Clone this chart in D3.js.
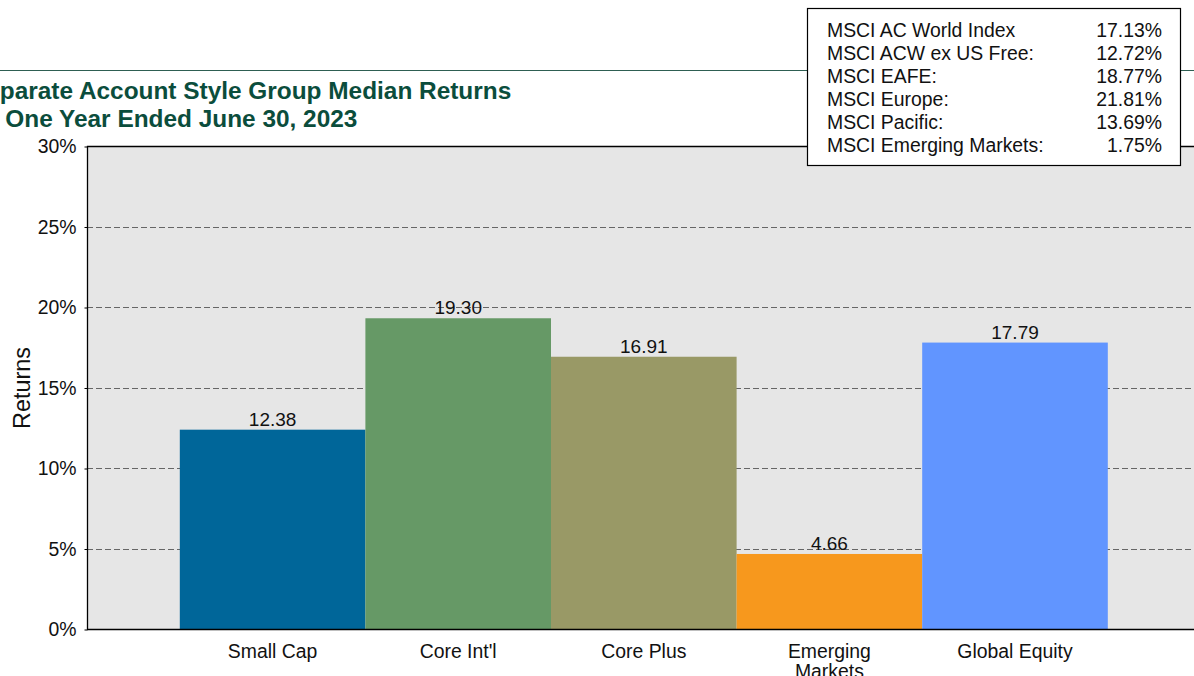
<!DOCTYPE html>
<html>
<head>
<meta charset="utf-8">
<script src="https://cdn.jsdelivr.net/npm/d3@7"></script>
<style>
  body { margin: 0; background: #fff; }
  svg { display: block; font-family: "Liberation Sans", Arial, sans-serif; }
</style>
</head>
<body>
<svg id="chart" width="1194" height="676"></svg>
<script>
var categories = ["Small Cap", "Core Int'l", "Core Plus", "Emerging\nMarkets", "Global Equity"];
var returns = [12.38, 19.30, 16.91, 4.66, 17.79];
var barColors = ["#006699", "#669966", "#999966", "#f7981d", "#6195ff"];
var yTicks = [0, 5, 10, 15, 20, 25, 30];
var indexNames = ["MSCI AC World Index", "MSCI ACW ex US Free:", "MSCI EAFE:", "MSCI Europe:", "MSCI Pacific:", "MSCI Emerging Markets:"];
var indexReturns = ["17.13%", "12.72%", "18.77%", "21.81%", "13.69%", "1.75%"];
var titleLines = ["Separate Account Style Group Median Returns", "for One Year Ended June 30, 2023"];

var svg = d3.select("#chart");
var plotLeft = 87, plotRight = 1200.6, plotTop = 146, plotBottom = 629;
var titleColor = "#0b4d3c";
var labelSize = "19.4px";

var x = d3.scaleBand().domain(categories).range([plotLeft, plotRight]).paddingInner(0).paddingOuter(0.5);
var y = d3.scaleLinear().domain([0, 30]).range([plotBottom, plotTop]);

// header rule
svg.append("line")
  .attr("x1", 0).attr("x2", 1194)
  .attr("y1", 70.5).attr("y2", 70.5)
  .style("stroke", "#2e5e52")
  .style("stroke-width", 1.2);

// title (left edge runs off the page like the original)
svg.selectAll(".title").data(titleLines).enter()
  .append("text")
  .attr("class", "title")
  .attr("x", function (d, i) { return i === 0 ? -30 : -34; })
  .attr("y", function (d, i) { return 99 + i * 28; })
  .style("font-size", "24.4px")
  .style("font-weight", "bold")
  .style("fill", titleColor)
  .text(function (d) { return d; });

// plot background
svg.append("rect")
  .attr("x", plotLeft).attr("y", plotTop)
  .attr("width", plotRight - plotLeft).attr("height", plotBottom - plotTop)
  .style("fill", "#e6e6e6");

// grid lines
svg.selectAll(".grid").data(yTicks.filter(function (t) { return t > 0 && t < 30; })).enter()
  .append("line")
  .attr("class", "grid")
  .attr("x1", plotLeft).attr("x2", plotRight)
  .attr("y1", function (d) { return Math.round(y(d)) + 0.5; })
  .attr("y2", function (d) { return Math.round(y(d)) + 0.5; })
  .style("stroke", "#666")
  .style("stroke-width", 1.2)
  .style("stroke-dasharray", "6,3");

// bars
svg.selectAll(".bar").data(returns).enter()
  .append("rect")
  .attr("class", "bar")
  .attr("x", function (d, i) { return x(categories[i]); })
  .attr("y", function (d) { return y(d); })
  .attr("width", x.bandwidth())
  .attr("height", function (d) { return plotBottom - y(d); })
  .style("fill", function (d, i) { return barColors[i]; });

// value labels
svg.selectAll(".val").data(returns).enter()
  .append("text")
  .attr("class", "val")
  .attr("x", function (d, i) { return x(categories[i]) + x.bandwidth() / 2; })
  .attr("y", function (d) { return y(d) - 4; })
  .attr("text-anchor", "middle")
  .style("font-size", "19px")
  .style("fill", "#111")
  .text(function (d) { return d.toFixed(2); });

// frame: left + top + bottom
svg.append("path")
  .attr("d", "M" + plotRight + "," + (plotTop + 0.5) + "H" + (plotLeft + 0.5) + "V" + (plotBottom + 0.5) + "H" + plotRight)
  .style("fill", "none")
  .style("stroke", "#000")
  .style("stroke-width", 1.3);

// y axis
var yAxis = d3.axisLeft(y).tickValues(yTicks).tickSize(3).tickFormat(function (d) { return d + "%"; });
var yg = svg.append("g").attr("transform", "translate(" + (plotLeft + 0.5) + ",0.5)").call(yAxis);
yg.select(".domain").remove();
yg.selectAll("text").style("font-size", labelSize).style("fill", "#111")
  .style("font-family", "'Liberation Sans', Arial, sans-serif").attr("x", -11);
yg.selectAll("line").style("stroke", "#000");

svg.append("text")
  .attr("transform", "translate(30,388) rotate(-90)")
  .attr("text-anchor", "middle")
  .style("font-size", "23.4px")
  .style("fill", "#111")
  .text("Returns");

// category labels
var cat = svg.selectAll(".cat").data(categories).enter()
  .append("text")
  .attr("class", "cat")
  .attr("text-anchor", "middle")
  .style("font-size", labelSize)
  .style("fill", "#111");
cat.selectAll("tspan")
  .data(function (d) { return d.split("\n").map(function (s) { return [s, d]; }); })
  .enter().append("tspan")
  .attr("x", function (d) { return x(d[1]) + x.bandwidth() / 2; })
  .attr("y", function (d, i) { return 658 + i * 20; })
  .text(function (d) { return d[0]; });

// index box
svg.append("rect")
  .attr("x", 807.5).attr("y", 8.5)
  .attr("width", 373).attr("height", 157)
  .style("fill", "#fff")
  .style("stroke", "#000")
  .style("stroke-width", 1.2);

svg.selectAll(".idxName").data(indexNames).enter()
  .append("text")
  .attr("x", 827)
  .attr("y", function (d, i) { return 37 + i * 23; })
  .style("font-size", labelSize)
  .style("fill", "#111")
  .text(function (d) { return d; });

svg.selectAll(".idxVal").data(indexReturns).enter()
  .append("text")
  .attr("x", 1162)
  .attr("y", function (d, i) { return 37 + i * 23; })
  .attr("text-anchor", "end")
  .style("font-size", labelSize)
  .style("fill", "#111")
  .text(function (d) { return d; });
</script>
</body>
</html>
